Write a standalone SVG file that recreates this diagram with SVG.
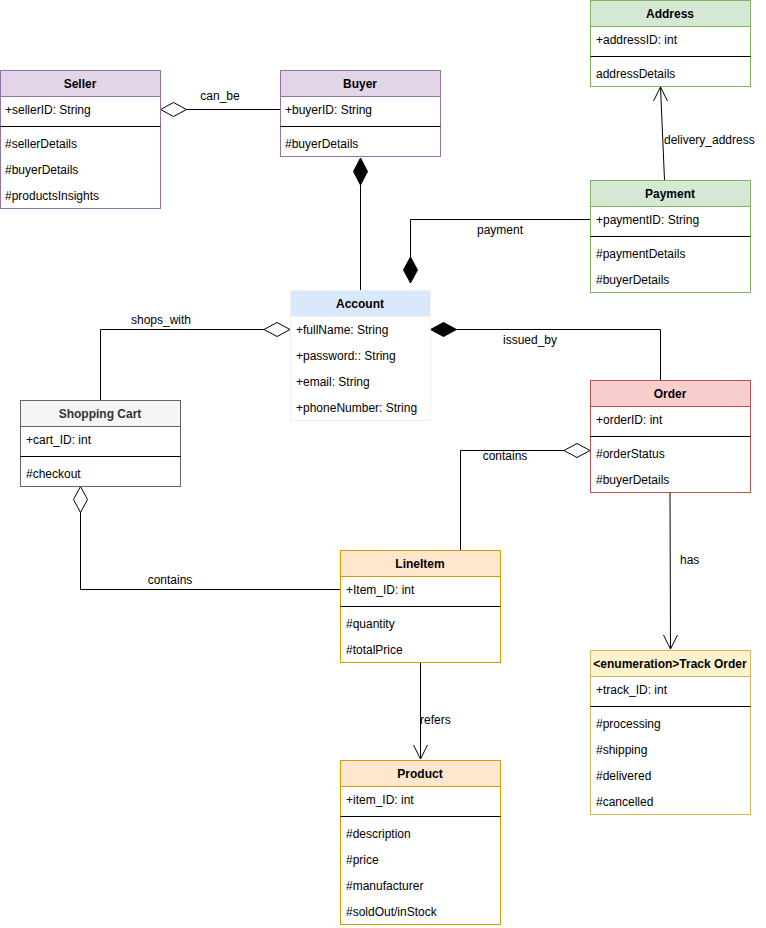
<svg xmlns="http://www.w3.org/2000/svg" width="766" height="928" viewBox="0 0 766 928">
  <style>
    text { font-family: "Liberation Sans", Arial, Helvetica, sans-serif; font-size: 12px; fill: #000; }
    .h { font-weight: bold; text-anchor: middle; }
    .box { fill: #ffffff; }
    .div { stroke: #000; stroke-width: 1; }
    .edge { fill: none; stroke: #000; stroke-width: 1; }
    .hollow { fill: #fff; stroke: #000; stroke-width: 1; }
    .solid { fill: #000; stroke: #000; stroke-width: 1; }
    .purple rect { stroke: #9673a6; }
    .purple .hd { fill: #e1d5e7; }
    .green rect { stroke: #82b366; }
    .green .hd { fill: #d5e8d4; }
    .blue rect { stroke: #f0f0f0; }
    .blue .hd { fill: #dae8fc; }
    .grey rect { stroke: #666666; }
    .grey .hd { fill: #f5f5f5; }
    .red rect { stroke: #b85450; }
    .red .hd { fill: #f8cecc; }
    .orange rect { stroke: #d79b00; }
    .orange .hd { fill: #ffe6cc; }
    .yellow rect { stroke: #d6b656; }
    .yellow .hd { fill: #fff2cc; }
  </style>

  <!-- connectors -->
  <g id="connectors">
    <!-- Seller <>- Buyer -->
    <path class="edge" d="M280.5,109.5 H186"/>
    <path class="hollow" d="M160.5,109.5 L173.5,102.5 L186.5,109.5 L173.5,116.5 Z"/>
    <text x="220" y="100" text-anchor="middle">can_be</text>

    <!-- Buyer <#>- Account -->
    <path class="edge" d="M360.5,290 V185"/>
    <path class="solid" d="M360.5,158 L367.5,171.5 L360.5,185 L353.5,171.5 Z"/>

    <!-- Account <#>- Payment -->
    <path class="edge" d="M590,219.5 H410.5 V257"/>
    <path class="solid" d="M410.5,257 L417.5,270 L410.5,283 L403.5,270 Z"/>
    <text x="500" y="234" text-anchor="middle">payment</text>

    <!-- Payment -> Address -->
    <path class="edge" d="M664.5,180 L660.5,87"/>
    <path class="edge" d="M653.5,101 L660.5,87 L667.5,101"/>
    <text x="664" y="144">delivery_address</text>

    <!-- Account <>- Shopping Cart -->
    <path class="edge" d="M100.5,400 V329.5 H264"/>
    <path class="hollow" d="M290,329.5 L277,322.5 L264,329.5 L277,336.5 Z"/>
    <text x="161" y="324" text-anchor="middle">shops_with</text>

    <!-- Account <#>- Order -->
    <path class="edge" d="M660.5,380 V329.5 H456"/>
    <path class="solid" d="M430.5,329.5 L443.5,322.5 L456.5,329.5 L443.5,336.5 Z"/>
    <text x="530" y="344" text-anchor="middle">issued_by</text>

    <!-- Order <>- LineItem -->
    <path class="edge" d="M460.5,550 V450.5 H564"/>
    <path class="hollow" d="M590,450.5 L577,443.5 L564,450.5 L577,457.5 Z"/>
    <text x="505" y="460" text-anchor="middle">contains</text>

    <!-- Shopping Cart <>- LineItem -->
    <path class="edge" d="M340,589.5 H80.5 V512"/>
    <path class="hollow" d="M80.5,486.5 L87.5,499.5 L80.5,512.5 L73.5,499.5 Z"/>
    <text x="170" y="584" text-anchor="middle">contains</text>

    <!-- LineItem -> Product -->
    <path class="edge" d="M420.5,662 V759"/>
    <path class="edge" d="M413.5,745 L420.5,759 L427.5,745"/>
    <text x="420" y="724">refers</text>

    <!-- Order -> Track Order -->
    <path class="edge" d="M670,492 L670.5,649" stroke="#333"/>
    <path class="edge" d="M663.5,635 L670.5,649 L677.5,635"/>
    <text x="680" y="564">has</text>
  </g>

  <!-- Seller -->
  <g id="seller" class="purple">
    <rect class="box" x="0.5" y="70.5" width="160" height="138"/>
    <rect class="hd" x="0.5" y="70.5" width="160" height="26"/>
    <line class="div" x1="0.5" y1="126.5" x2="160.5" y2="126.5"/>
    <text class="h" x="80" y="88">Seller</text>
    <text x="5" y="114">+sellerID: String</text>
    <text x="5" y="148">#sellerDetails</text>
    <text x="5" y="174">#buyerDetails</text>
    <text x="5" y="200">#productsInsights</text>
  </g>

  <!-- Buyer -->
  <g id="buyer" class="purple">
    <rect class="box" x="280.5" y="70.5" width="160" height="86"/>
    <rect class="hd" x="280.5" y="70.5" width="160" height="26"/>
    <line class="div" x1="280.5" y1="126.5" x2="440.5" y2="126.5"/>
    <text class="h" x="360" y="88">Buyer</text>
    <text x="285" y="114">+buyerID: String</text>
    <text x="285" y="148">#buyerDetails</text>
  </g>

  <!-- Address -->
  <g id="address" class="green">
    <rect class="box" x="590.5" y="0.5" width="160" height="86"/>
    <rect class="hd" x="590.5" y="0.5" width="160" height="26"/>
    <line class="div" x1="590.5" y1="56.5" x2="750.5" y2="56.5"/>
    <text class="h" x="670" y="18">Address</text>
    <text x="596" y="44">+addressID: int</text>
    <text x="596" y="78">addressDetails</text>
  </g>

  <!-- Payment -->
  <g id="payment" class="green">
    <rect class="box" x="590.5" y="180.5" width="160" height="112"/>
    <rect class="hd" x="590.5" y="180.5" width="160" height="26"/>
    <line class="div" x1="590.5" y1="236.5" x2="750.5" y2="236.5"/>
    <text class="h" x="670" y="198">Payment</text>
    <text x="596" y="224">+paymentID: String</text>
    <text x="596" y="258">#paymentDetails</text>
    <text x="596" y="284">#buyerDetails</text>
  </g>

  <!-- Account -->
  <g id="account" class="blue">
    <rect class="box" x="290.5" y="290.5" width="140" height="130"/>
    <rect class="hd" x="290.5" y="290.5" width="140" height="26"/>
    <text class="h" x="360" y="308">Account</text>
    <text x="296" y="334">+fullName: String</text>
    <text x="296" y="360">+password:: String</text>
    <text x="296" y="386">+email: String</text>
    <text x="296" y="412">+phoneNumber: String</text>
  </g>

  <!-- Shopping Cart -->
  <g id="shopping-cart" class="grey">
    <rect class="box" x="20.5" y="400.5" width="160" height="86"/>
    <rect class="hd" x="20.5" y="400.5" width="160" height="26"/>
    <line class="div" x1="20.5" y1="456.5" x2="180.5" y2="456.5"/>
    <text class="h" x="100" y="418" style="fill:#333">Shopping Cart</text>
    <text x="26" y="444">+cart_ID: int</text>
    <text x="26" y="478">#checkout</text>
  </g>

  <!-- Order -->
  <g id="order" class="red">
    <rect class="box" x="590.5" y="380.5" width="160" height="112"/>
    <rect class="hd" x="590.5" y="380.5" width="160" height="26"/>
    <line class="div" x1="590.5" y1="436.5" x2="750.5" y2="436.5"/>
    <text class="h" x="670" y="398">Order</text>
    <text x="596" y="424">+orderID: int</text>
    <text x="596" y="458">#orderStatus</text>
    <text x="596" y="484">#buyerDetails</text>
  </g>

  <!-- LineItem -->
  <g id="line-item" class="orange">
    <rect class="box" x="340.5" y="550.5" width="160" height="112"/>
    <rect class="hd" x="340.5" y="550.5" width="160" height="26"/>
    <line class="div" x1="340.5" y1="606.5" x2="500.5" y2="606.5"/>
    <text class="h" x="420" y="568">LineItem</text>
    <text x="346" y="594">+Item_ID: int</text>
    <text x="346" y="628">#quantity</text>
    <text x="346" y="654">#totalPrice</text>
  </g>

  <!-- Product -->
  <g id="product" class="orange">
    <rect class="box" x="340.5" y="760.5" width="160" height="164"/>
    <rect class="hd" x="340.5" y="760.5" width="160" height="26"/>
    <line class="div" x1="340.5" y1="816.5" x2="500.5" y2="816.5"/>
    <text class="h" x="420" y="778">Product</text>
    <text x="346" y="804">+item_ID: int</text>
    <text x="346" y="838">#description</text>
    <text x="346" y="864">#price</text>
    <text x="346" y="890">#manufacturer</text>
    <text x="346" y="916">#soldOut/inStock</text>
  </g>

  <!-- Track Order -->
  <g id="track-order" class="yellow">
    <rect class="box" x="590.5" y="650.5" width="160" height="164"/>
    <rect class="hd" x="590.5" y="650.5" width="160" height="26"/>
    <line class="div" x1="590.5" y1="706.5" x2="750.5" y2="706.5"/>
    <text class="h" x="670" y="668">&lt;enumeration&gt;Track Order</text>
    <text x="596" y="694">+track_ID: int</text>
    <text x="596" y="728">#processing</text>
    <text x="596" y="754">#shipping</text>
    <text x="596" y="780">#delivered</text>
    <text x="596" y="806">#cancelled</text>
  </g>
</svg>
